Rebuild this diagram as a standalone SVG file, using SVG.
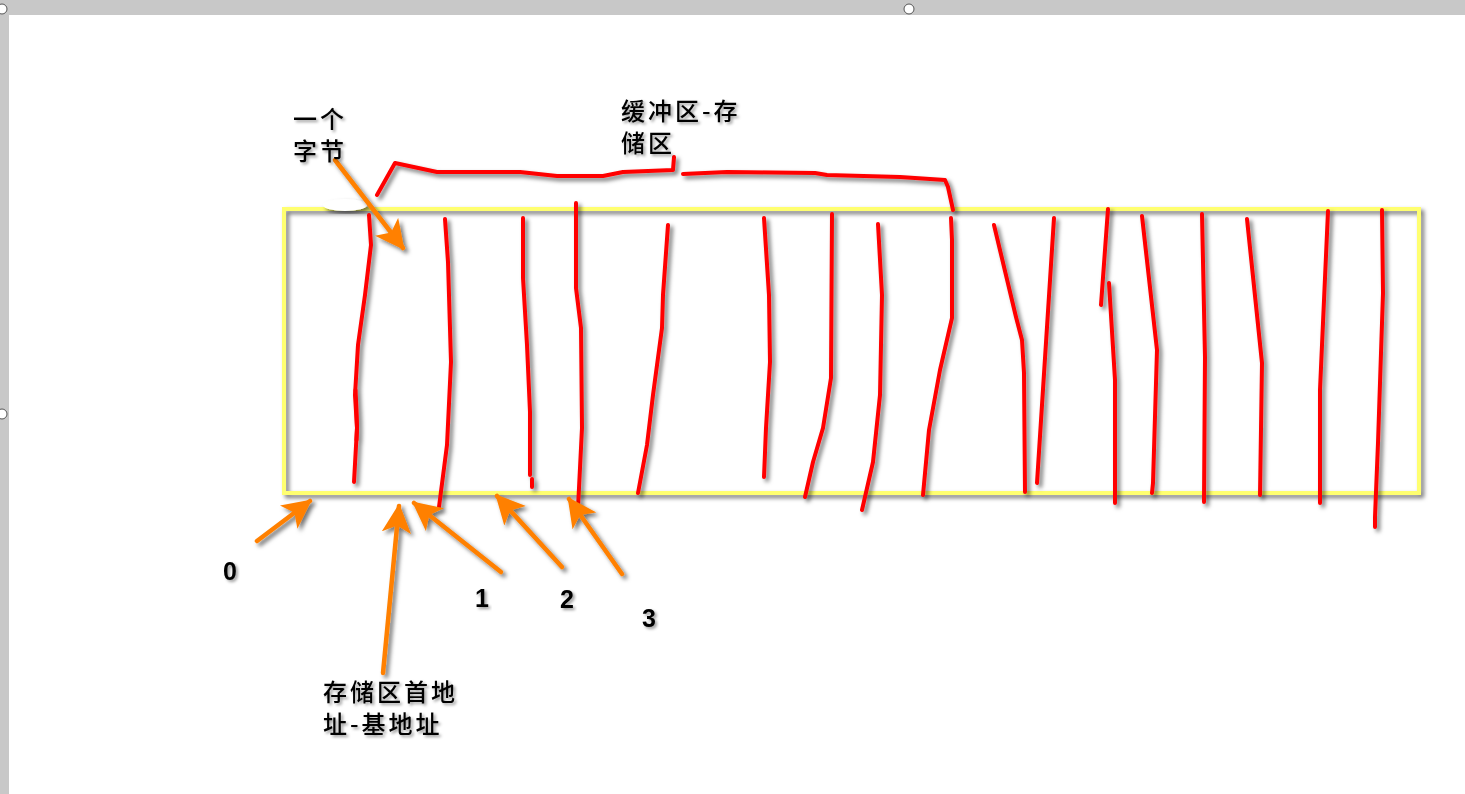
<svg xmlns="http://www.w3.org/2000/svg" width="1465" height="794" viewBox="0 0 1465 794">
<style>
.red{fill:none;stroke:#ff0000;stroke-width:4;stroke-linecap:round;stroke-linejoin:round}
.or{fill:none;stroke:#ff8000;stroke-width:4.5;stroke-linecap:round}
.cjk{font-family:"Noto Sans CJK SC",sans-serif;font-size:24px;font-weight:500;letter-spacing:3px;fill:#000}
.num{font-family:"Liberation Sans",Arial,sans-serif;font-size:25px;font-weight:bold;fill:#000;text-anchor:middle}
</style>
<defs>
<filter id="sh" x="-20%" y="-20%" width="140%" height="140%">
<feDropShadow dx="3" dy="3" stdDeviation="2" flood-color="#000" flood-opacity="0.55"/>
</filter>
<filter id="tsh" x="-20%" y="-20%" width="140%" height="140%">
<feDropShadow dx="2" dy="2" stdDeviation="1.5" flood-color="#000" flood-opacity="0.4"/>
</filter>
<marker id="ah" viewBox="0 0 12 12" refX="11" refY="6" markerWidth="6.5" markerHeight="6.5" orient="auto" markerUnits="strokeWidth">
<path d="M0,0 L12,6 L0,12 L3,6 Z" fill="#ff8000"/>
</marker>
</defs>
<rect width="1465" height="794" fill="#fff"/>
<rect x="0" y="0" width="1465" height="15" fill="#c8c8c8"/>
<rect x="0" y="0" width="9" height="794" fill="#c8c8c8"/>
<circle cx="909" cy="9" r="5" fill="#fff" stroke="#555" stroke-width="1"/>
<circle cx="2" cy="9" r="5" fill="#fff" stroke="#555" stroke-width="1"/>
<circle cx="2" cy="414" r="5" fill="#fff" stroke="#555" stroke-width="1"/>

<g id="buffer" filter="url(#sh)">
<rect x="284" y="209" width="1135" height="284" fill="none" stroke="#ffff70" stroke-width="4"/>
</g>
<g id="blob" filter="url(#sh)">
<ellipse cx="345" cy="205" rx="22" ry="6" fill="#fff"/>
</g>

<g id="cells" filter="url(#sh)">
<path class="red" d="M369,215 L371,245 L365,295 L358,345 L355,395 L357,428 L354,482"/>
<path class="red" d="M355.5,390 L356.5,410 L357,428 L356.5,440" stroke-width="6"/>
<path class="red" d="M445,219 L448,262 L451,362 L447,445 L439,507"/>
<path class="red" d="M523,218 L523,278 L527,345 L530,412 L530,475"/>
<path class="red" d="M532,479 L532,487"/>
<path class="red" d="M576,203 L576,288 L581,328 L582,428 L578,508"/>
<path class="red" d="M668,225 L663,295 L662,328 L653,395 L647,445 L638,493"/>
<path class="red" d="M764,218 L769,295 L770,362 L766,428 L764,477"/>
<path class="red" d="M832,214 L831,378 L823,428 L813,462 L805,497"/>
<path class="red" d="M878,224 L882,295 L880,395 L873,462 L862,510"/>
<path class="red" d="M951,218 L952,240 L952,318 L940,370 L929,430 L923,495"/>
<path class="red" d="M994,225 L1016,317 L1022,340 L1024,373 L1025,492"/>
<path class="red" d="M1054,218 L1037,483"/>
<path class="red" d="M1108,209 L1101,305"/>
<path class="red" d="M1109,283 L1115,380 L1115,503"/>
<path class="red" d="M1142,216 L1157,350 L1153,483 L1152,493"/>
<path class="red" d="M1202,214 L1205,357 L1204,502"/>
<path class="red" d="M1247,219 L1262,363 L1260,495"/>
<path class="red" d="M1328,211 L1320,390 L1320,503"/>
<path class="red" d="M1382,210 L1383,293 L1378,443 L1375,517 L1375,527"/>
</g>

<g id="brace" filter="url(#sh)">
<path class="red" d="M377,195 L395,163 L437,172 L520,172 L557,176 L603,176 L623,172 L673,170 L674,157"/>
<path class="red" d="M683,174 L727,172 L815,173 L827,175 L900,177 L945,180 L948,187 L953,210"/>
</g>

<g id="connectors" filter="url(#sh)">
<path class="or" d="M335,160 L403,248" marker-end="url(#ah)"/>
<path class="or" d="M257,541 L310,501" marker-end="url(#ah)"/>
<path class="or" d="M383,673 L399,506" marker-end="url(#ah)"/>
<path class="or" d="M501,572 L414,503" marker-end="url(#ah)"/>
<path class="or" d="M562,567 L497,496" marker-end="url(#ah)"/>
<path class="or" d="M622,574 L569,499" marker-end="url(#ah)"/>
</g>

<g id="label-byte" filter="url(#tsh)">
<text class="cjk" x="293" y="128">一个</text>
<text class="cjk" x="293" y="160">字节</text>
</g>
<g id="label-buffer" filter="url(#tsh)">
<text class="cjk" x="621" y="120">缓冲区-存</text>
<text class="cjk" x="621" y="152">储区</text>
</g>
<g id="label-base" filter="url(#tsh)">
<text class="cjk" x="323" y="701">存储区首地</text>
<text class="cjk" x="323" y="733">址-基地址</text>
</g>
<g id="label-0" filter="url(#tsh)"><text class="num" x="230" y="580">0</text></g>
<g id="label-1" filter="url(#tsh)"><text class="num" x="482" y="607">1</text></g>
<g id="label-2" filter="url(#tsh)"><text class="num" x="567" y="608">2</text></g>
<g id="label-3" filter="url(#tsh)"><text class="num" x="649" y="627">3</text></g>
</svg>
